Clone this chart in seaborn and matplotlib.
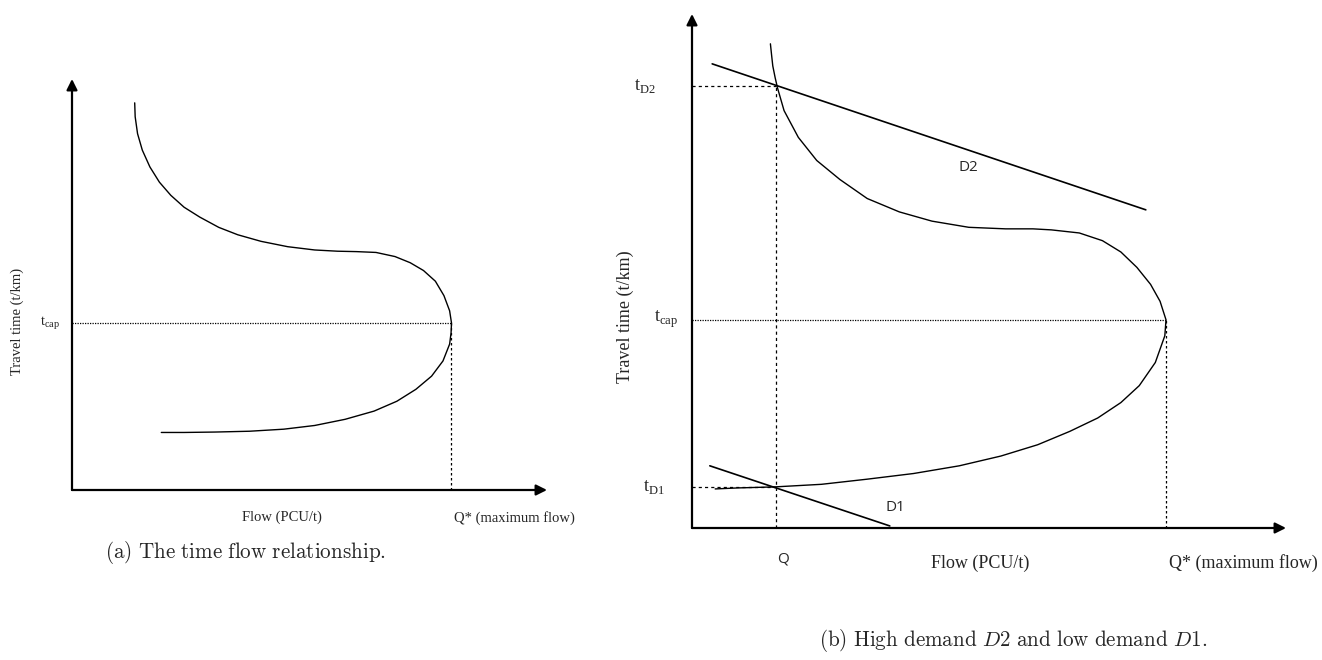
import seaborn as sns
import matplotlib.pyplot as plt
import pandas as pd

# time-flow curve, left panel (flow %, time %)
left_flow = [13.2, 13.3, 13.8, 14.8, 16.4, 18.4, 20.8, 23.6, 26.9, 30.9, 34.9, 39.8, 45.4,
             51.1, 55.9, 59.9, 64.0, 68.0, 71.2, 74.0, 76.5, 78.3, 79.5, 79.9, 79.8, 79.5,
             78.1, 75.7, 72.4, 68.4, 63.6, 57.5, 51.1, 44.6, 37.4, 30.1, 23.6, 18.8]
left_time = [94.2, 90.8, 86.7, 82.7, 78.6, 74.9, 71.7, 68.8, 66.4, 63.9, 62.1, 60.5, 59.2,
             58.4, 58.1, 58.0, 57.8, 56.8, 55.3, 53.4, 50.8, 47.3, 43.6, 40.6, 38.2, 35.5,
             31.4, 27.7, 24.5, 21.6, 19.2, 17.2, 15.7, 14.8, 14.3, 14.1, 14.0, 14.0]
left_tcap = 40.6
left_qmax = 79.8

# time-flow curve, right panel
right_flow = [13.2, 13.4, 13.6, 14.0, 14.4, 15.5, 17.9, 21.0, 24.9, 29.5, 34.9, 40.4, 46.6,
              52.8, 57.4, 60.5, 65.2, 69.1, 72.2, 74.9, 77.2, 78.8, 79.8, 79.6, 78.0, 75.3,
              72.2, 68.3, 63.6, 58.2, 52.0, 45.0, 37.3, 29.5, 21.8, 14.0, 7.8, 3.9]
right_time = [94.2, 92.0, 89.9, 87.6, 85.6, 81.2, 76.0, 71.5, 67.8, 64.1, 61.5, 59.7, 58.5,
              58.2, 58.2, 58.0, 57.4, 55.9, 53.7, 50.7, 47.4, 44.1, 40.5, 37.4, 32.2, 27.7,
              24.4, 21.4, 18.8, 16.2, 14.0, 12.1, 10.6, 9.5, 8.5, 8.0, 7.8, 7.6]
right_tcap = 40.5
right_qmax = 79.8
q_eq = 14.1
t_d2 = 86.0
t_d1 = 8.0

# demand lines
d2_flow = [3.4, 76.4]
d2_time = [90.3, 61.9]
d1_flow = [3.0, 33.3]
d1_time = [12.1, 0.4]

sns.set_style("white")
plt.rcParams["font.family"] = ["Liberation Serif", "DejaVu Serif"]
plt.rcParams["mathtext.fontset"] = "custom"
plt.rcParams["mathtext.rm"] = "Liberation Serif"

fig = plt.figure(figsize=(13.22, 6.6), dpi=100)
ax1 = fig.add_axes([72 / 1322, 170 / 660, 475 / 1322, 411 / 660])
ax2 = fig.add_axes([692 / 1322, 132 / 660, 594 / 1322, 514 / 660])


def draw_axes(ax):
    ax.set_xlim(0, 100)
    ax.set_ylim(0, 100)
    ax.axis("off")
    arrow = dict(arrowstyle="-|>", lw=1.6, color="black", mutation_scale=16,
                 shrinkA=0, shrinkB=0)
    ax.annotate("", xy=(0, 100), xytext=(0, 0), xycoords="data", arrowprops=arrow,
                annotation_clip=False)
    ax.annotate("", xy=(100, 0), xytext=(0, 0), xycoords="data", arrowprops=arrow,
                annotation_clip=False)


# Left panel
draw_axes(ax1)
df_left = pd.DataFrame({"flow": left_flow, "time": left_time})
sns.lineplot(data=df_left, x="flow", y="time", sort=False, estimator=None,
             color="black", lw=1.0, ax=ax1)
ax1.plot([0, left_qmax], [left_tcap, left_tcap], color="black", lw=0.9, ls=(0, (1, 1)))
ax1.plot([left_qmax, left_qmax], [0, left_tcap], color="black", lw=0.9, ls=(0, (2, 2)))
ax1.text(-4.6, left_tcap, r"$\mathrm{t}_{\mathrm{cap}}$", fontsize=10.5, ha="center", va="center")
ax1.text(-11.6, 41.1, "Travel time (t/km)", fontsize=10.5, rotation=90, ha="center", va="center")
ax1.text(44.2, -6.6, "Flow (PCU/t)", fontsize=10.5, ha="center", va="center")
ax1.text(93.1, -6.8, "Q* (maximum flow)", fontsize=10.5, ha="center", va="center")

# Right panel
draw_axes(ax2)
df_right = pd.DataFrame({"flow": right_flow, "time": right_time})
sns.lineplot(data=df_right, x="flow", y="time", sort=False, estimator=None,
             color="black", lw=1.0, ax=ax2)
sns.lineplot(x=d2_flow, y=d2_time, color="black", lw=1.2, ax=ax2)
sns.lineplot(x=d1_flow, y=d1_time, color="black", lw=1.2, ax=ax2)
ax2.plot([0, q_eq], [t_d2, t_d2], color="black", lw=0.9, ls=(0, (2.5, 2.5)))
ax2.plot([q_eq, q_eq], [0, t_d2], color="black", lw=0.9, ls=(0, (2.5, 2.5)))
ax2.plot([0, q_eq], [t_d1, t_d1], color="black", lw=0.9, ls=(0, (2.5, 2.5)))
ax2.plot([0, right_qmax], [right_tcap, right_tcap], color="black", lw=0.9, ls=(0, (1, 1)))
ax2.plot([right_qmax, right_qmax], [0, right_tcap], color="black", lw=0.9, ls=(0, (2, 2)))
ax2.text(-7.9, t_d2, r"$\mathrm{t}_{\mathrm{D2}}$", fontsize=13, ha="center", va="center")
ax2.text(-4.4, right_tcap, r"$\mathrm{t}_{\mathrm{cap}}$", fontsize=13, ha="center", va="center")
ax2.text(-6.4, t_d1, r"$\mathrm{t}_{\mathrm{D1}}$", fontsize=13, ha="center", va="center")
ax2.text(-11.3, 41.2, "Travel time (t/km)", fontsize=13, rotation=90, ha="center", va="center")
ax2.text(15.3, -6.0, "Q", fontsize=11, family="Open Sans", ha="center", va="center")
ax2.text(48.5, -6.8, "Flow (PCU/t)", fontsize=13, ha="center", va="center")
ax2.text(92.8, -6.8, "Q* (maximum flow)", fontsize=13, ha="center", va="center")
ax2.text(46.5, 70.2, "D2", fontsize=11, family="Open Sans", ha="center", va="center")
ax2.text(34.2, 3.9, "D1", fontsize=11, family="Open Sans", ha="center", va="center")

# Captions
fig.text(245 / 1322, 1 - 553 / 660, r"$\mathrm{(a)\ The\ time\ flow\ relationship.}$",
         fontsize=15.2, math_fontfamily="cm", ha="center", va="center")
fig.text(1013 / 1322, 1 - 641 / 660,
         r"$\mathrm{(b)\ High\ demand\ }D2\mathrm{\ and\ low\ demand\ }D1\mathrm{.}$",
         fontsize=15.2, math_fontfamily="cm", ha="center", va="center")

fig.savefig("out.png", dpi=100)
